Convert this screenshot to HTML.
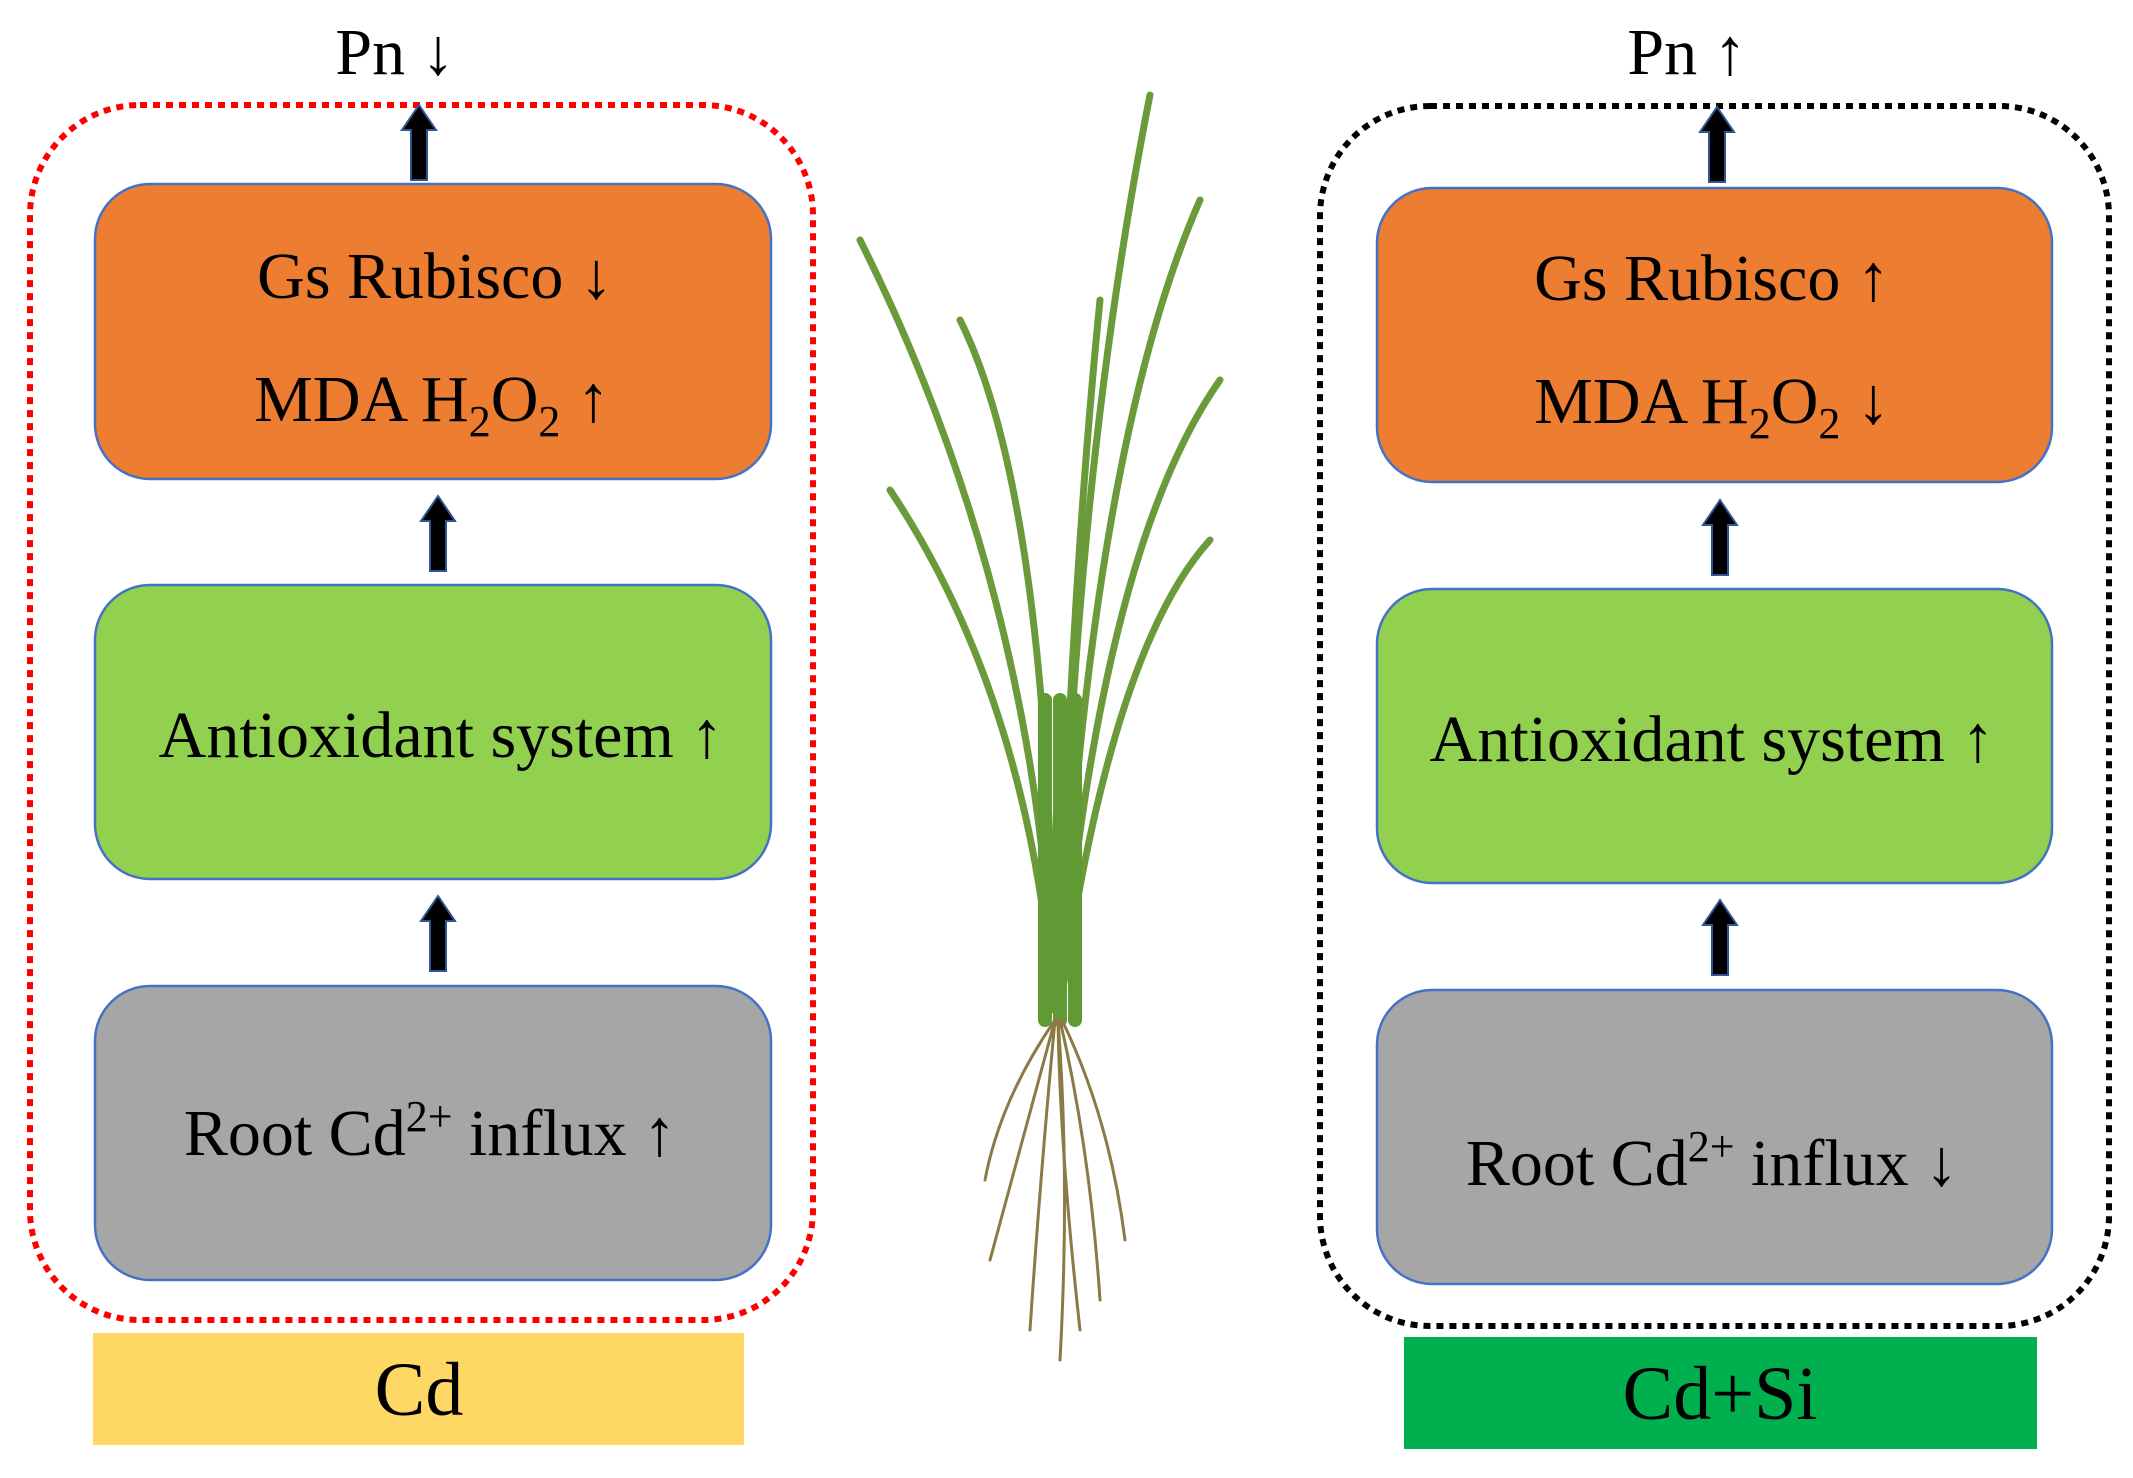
<!DOCTYPE html>
<html><head><meta charset="utf-8"><style>
body{margin:0;background:#fff;}
svg text{font-family:"Liberation Serif",serif;fill:#000;}
</style></head><body>
<svg width="2133" height="1473" viewBox="0 0 2133 1473" xmlns="http://www.w3.org/2000/svg">
<defs>
<g id="arr"><path d="M-8 0 L-8 -50 L-17 -50 L0 -75 L17 -50 L8 -50 L8 0 Z" fill="#000" stroke="#2F5597" stroke-width="2"/></g>
</defs>
<!-- left -->
<rect x="30" y="105" width="783" height="1215" rx="110" fill="none" stroke="#F00" stroke-width="6" stroke-dasharray="7 6"/>
<rect x="95" y="184" width="676" height="295" rx="55" fill="#ED7D31" stroke="#4472C4" stroke-width="2.5"/>
<rect x="95" y="585" width="676" height="294" rx="55" fill="#92D050" stroke="#4472C4" stroke-width="2.5"/>
<rect x="95" y="986" width="676" height="294" rx="55" fill="#A6A6A6" stroke="#4472C4" stroke-width="2.5"/>
<rect x="93" y="1333" width="651" height="112" fill="#FDD865"/>
<use href="#arr" x="419" y="180"/>
<use href="#arr" x="438" y="571"/>
<use href="#arr" x="438" y="971"/>
<text x="395" y="74" font-size="66" text-anchor="middle">Pn ↓</text>
<text x="435" y="298" font-size="66" text-anchor="middle">Gs  Rubisco ↓</text>
<text x="432" y="421" font-size="66" text-anchor="middle">MDA H<tspan font-size="44" dy="15">2</tspan><tspan dy="-15">O</tspan><tspan font-size="44" dy="15">2</tspan><tspan dy="-15"> ↑</tspan></text>
<text x="441" y="757" font-size="66" text-anchor="middle">Antioxidant system ↑</text>
<text x="430" y="1155" font-size="66" text-anchor="middle">Root Cd<tspan font-size="44" dy="-24">2+</tspan><tspan dy="24"> influx ↑</tspan></text>
<text x="419" y="1415" font-size="76" text-anchor="middle">Cd</text>
<!-- right -->
<rect x="1320" y="106" width="789" height="1220" rx="110" fill="none" stroke="#000" stroke-width="6" stroke-dasharray="7 6"/>
<rect x="1377" y="188" width="675" height="294" rx="55" fill="#ED7D31" stroke="#4472C4" stroke-width="2.5"/>
<rect x="1377" y="589" width="675" height="294" rx="55" fill="#92D050" stroke="#4472C4" stroke-width="2.5"/>
<rect x="1377" y="990" width="675" height="294" rx="55" fill="#A6A6A6" stroke="#4472C4" stroke-width="2.5"/>
<rect x="1404" y="1337" width="633" height="112" fill="#00B04F"/>
<use href="#arr" x="1717" y="182"/>
<use href="#arr" x="1720" y="575"/>
<use href="#arr" x="1720" y="975"/>
<text x="1687" y="74" font-size="66" text-anchor="middle">Pn ↑</text>
<text x="1712" y="300" font-size="66" text-anchor="middle">Gs Rubisco ↑</text>
<text x="1712" y="423" font-size="66" text-anchor="middle">MDA H<tspan font-size="44" dy="15">2</tspan><tspan dy="-15">O</tspan><tspan font-size="44" dy="15">2</tspan><tspan dy="-15"> ↓</tspan></text>
<text x="1712" y="761" font-size="66" text-anchor="middle">Antioxidant system ↑</text>
<text x="1712" y="1185" font-size="66" text-anchor="middle">Root Cd<tspan font-size="44" dy="-24">2+</tspan><tspan dy="24"> influx ↓</tspan></text>
<text x="1720" y="1419" font-size="76" text-anchor="middle">Cd+Si</text>
<!-- plant -->
<g fill="none" stroke-linecap="round">
<g stroke="#6a9a3a" stroke-width="7">
<path d="M1054 1010 Q1040 600 860 240"/>
<path d="M1054 1010 Q1050 500 960 320"/>
<path d="M1054 1010 Q1030 700 890 490"/>
<path d="M1060 1010 Q1070 500 1150 95"/>
<path d="M1060 1010 Q1090 450 1200 200"/>
<path d="M1060 1010 Q1100 550 1220 380"/>
<path d="M1060 1010 Q1110 650 1210 540"/>
<path d="M1058 1010 Q1070 600 1100 300"/>
</g>
<path d="M1045 1020 L1045 700 M1060 1020 L1060 700 M1075 1020 L1075 700" stroke="#5f9a35" stroke-width="14"/>
<g stroke="#8a7a45" stroke-width="3">
<path d="M1055 1020 Q1020 1150 990 1260"/>
<path d="M1055 1020 Q1040 1180 1030 1330"/>
<path d="M1058 1020 Q1070 1180 1060 1360"/>
<path d="M1060 1020 Q1090 1150 1100 1300"/>
<path d="M1062 1020 Q1110 1120 1125 1240"/>
<path d="M1055 1020 Q1000 1100 985 1180"/>
<path d="M1058 1020 Q1060 1150 1080 1330"/>
</g>
</g>
</svg>
</body></html>
